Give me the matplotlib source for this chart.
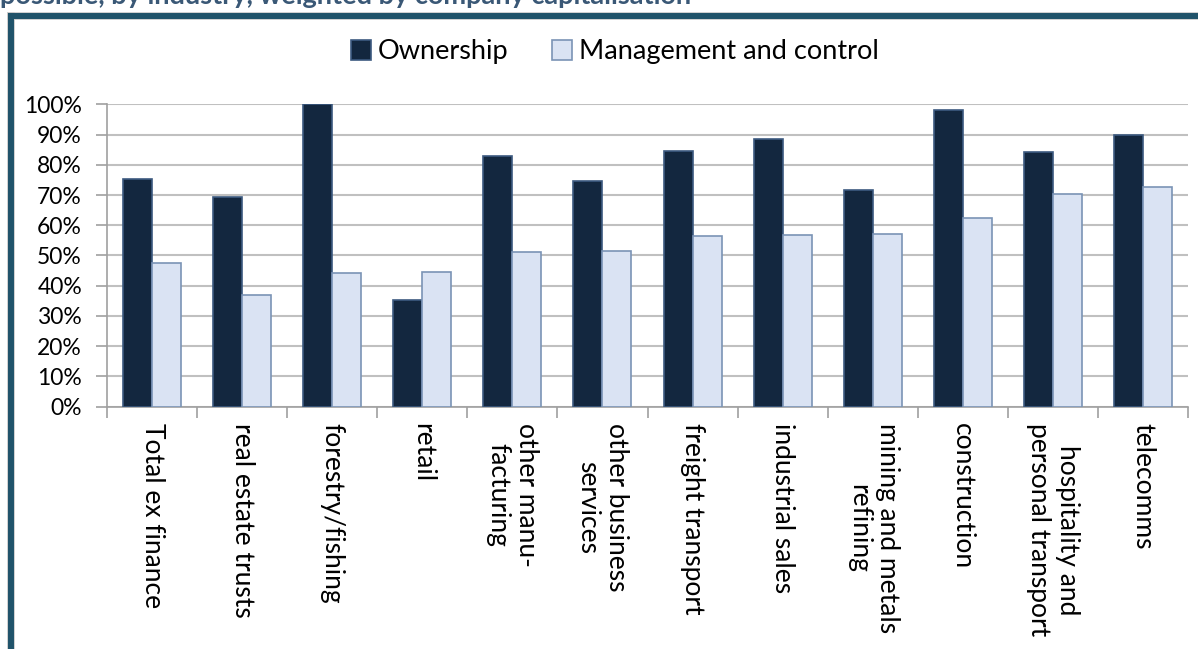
import numpy as np
import matplotlib.pyplot as plt
from matplotlib.lines import Line2D
from matplotlib.ticker import PercentFormatter

# ------------------ data ------------------
categories = [
    "Total ex finance", "real estate trusts", "forestry/fishing", "retail",
    "other manu-\nfacturing", "other business\nservices", "freight transport",
    "industrial sales", "mining and metals\nrefining", "construction",
    "hospitality and\npersonal transport", "telecomms",
]
ownership = [75.2, 69.4, 100.0, 35.2, 82.8, 74.8, 84.6, 88.6, 71.6, 98.0, 84.1, 89.8]
management = [47.5, 36.9, 44.1, 44.5, 51.1, 51.4, 56.4, 56.8, 57.2, 62.5, 70.4, 72.7]
series_names = ["Ownership", "Management and control"]
title_text = "possible, by industry, weighted by company capitalisation"

# ------------------ style ------------------
W, H = 1198, 649
plt.rcParams['font.family'] = ['Lato', 'DejaVu Sans']
dark_fill, dark_edge = "#13273f", "#3d5a80"
light_fill, light_edge = "#dae3f3", "#7a93b5"
grid_col = "#c0c0c0"
axis_col = "#a0a0a0"
frame_col = "#20536a"

fig = plt.figure(figsize=(W / 100, H / 100), dpi=100)

# panel frame: left and top edges only (open to the right / bottom)
fx, fy = 10.5 / W, 1 - 15.5 / H
for xs, ys in [([fx, fx], [-0.1, fy]), ([fx, 1.1], [fy, fy])]:
    fig.add_artist(Line2D(xs, ys, transform=fig.transFigure, color="#c8c8c8",
                          linewidth=5.5, solid_capstyle="projecting", zorder=0))
    fig.add_artist(Line2D(xs, ys, transform=fig.transFigure, color=frame_col,
                          linewidth=4.3, solid_capstyle="projecting", zorder=1))

fig.text(0.0, 1 - 4 / H, title_text, fontsize=19.5, fontweight="bold",
         color="#3a5876", ha="left", va="baseline")

ax = fig.add_axes([107 / W, 1 - 406.7 / H, (1188 - 107) / W, (406.7 - 104.3) / H])

x = np.arange(len(categories))
bw = 0.322
ax.bar(x - bw / 2, ownership, bw, color=dark_fill, edgecolor=dark_edge,
       linewidth=1.2, label=series_names[0], zorder=3)
ax.bar(x + bw / 2, management, bw, color=light_fill, edgecolor=light_edge,
       linewidth=1.2, label=series_names[1], zorder=3)

ax.set_xlim(-0.5, len(categories) - 0.5)
ax.set_ylim(0, 100)
ax.set_yticks(np.arange(0, 101, 10))
ax.yaxis.set_major_formatter(PercentFormatter(decimals=0))
ax.grid(axis="y", color=grid_col, linewidth=1.5, zorder=0)
ax.set_axisbelow(True)

# category boundary ticks with centred labels
ax.set_xticks(np.arange(-0.5, len(categories), 1.0))
ax.set_xticklabels([])
ax.set_xticks(x, minor=True)
ax.set_xticklabels(categories, minor=True, rotation=270, ha="center", va="top",
                   multialignment="center", fontsize=19)
ax.tick_params(axis="x", which="minor", length=0, pad=12)
ax.tick_params(axis="x", which="major", length=8, color=axis_col, width=1.2)
ax.tick_params(axis="y", length=8, color=axis_col, width=1.2, labelsize=16.5, pad=10)

for side in ["top", "right"]:
    ax.spines[side].set_visible(False)
for side in ["left", "bottom"]:
    ax.spines[side].set_color(axis_col)
    ax.spines[side].set_linewidth(1.2)

fig.legend(loc="center", bbox_to_anchor=(615 / W, 1 - 52 / H), ncol=2,
           frameon=False, fontsize=19.5, handlelength=0.75, handleheight=0.75,
           handletextpad=0.25, columnspacing=1.6)

fig.savefig("out.png", dpi=100)
